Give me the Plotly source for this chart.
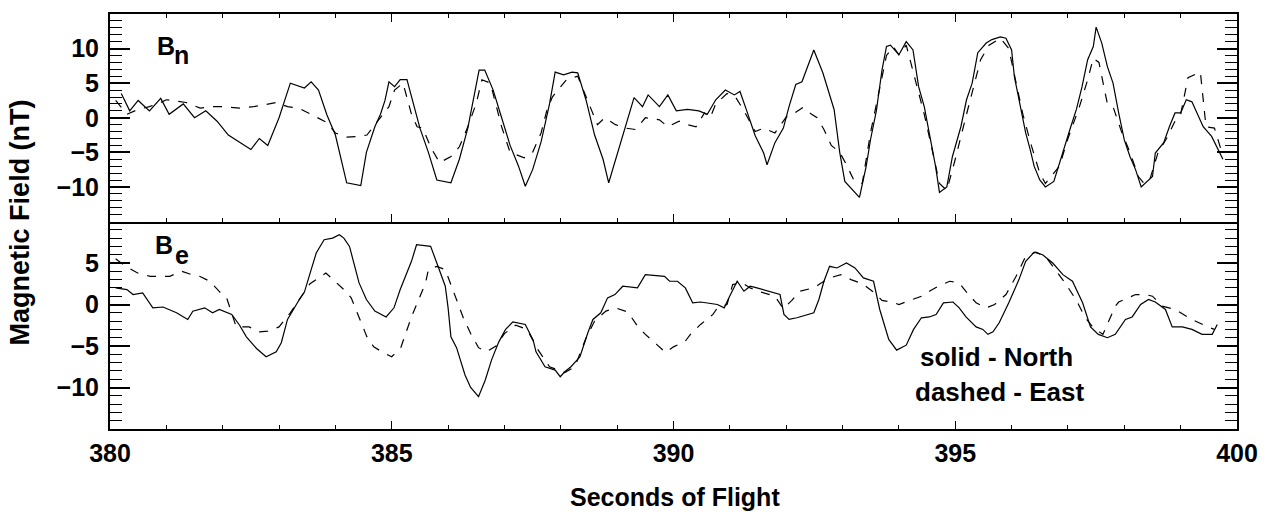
import plotly.graph_objects as go
from plotly.subplots import make_subplots

# ---------------- data ----------------
# Top panel: B_n
t_bn_north = [380.2, 380.35, 380.5, 380.7, 380.9, 381.05, 381.3, 381.5, 381.7, 381.9, 382.1, 382.3, 382.5,
              382.65, 382.8, 383.0, 383.2, 383.45, 383.57, 383.7, 383.85, 384.0, 384.1, 384.2, 384.45, 384.55,
              384.7, 384.8, 384.88, 384.95, 385.05, 385.15, 385.27, 385.4, 385.5, 385.65, 385.8, 386.05, 386.2,
              386.35, 386.45, 386.55, 386.65, 386.8, 386.95, 387.1, 387.25, 387.37, 387.5, 387.65, 387.8, 387.9,
              388.05, 388.2, 388.3, 388.45, 388.6, 388.75, 388.85, 389.0, 389.15, 389.3, 389.45, 389.55, 389.75,
              389.9, 390.05, 390.25, 390.45, 390.6, 390.75, 390.92, 391.08, 391.18, 391.3, 391.45, 391.6, 391.66,
              391.8, 391.95, 392.05, 392.17, 392.28, 392.49, 392.65, 392.75, 392.85, 392.95, 393.04, 393.3, 393.42,
              393.5, 393.6, 393.7, 393.78, 393.85, 394.0, 394.13, 394.25, 394.35, 394.45, 394.55, 394.65, 394.72,
              394.85, 394.95, 395.1, 395.2, 395.3, 395.4, 395.55, 395.65, 395.8, 395.9, 396.0, 396.05, 396.15,
              396.25, 396.33, 396.4, 396.5, 396.6, 396.75, 396.85, 397.05, 397.15, 397.25, 397.35, 397.45, 397.5,
              397.6, 397.7, 397.8, 397.9, 398.0, 398.1, 398.2, 398.3, 398.5, 398.55, 398.7, 398.8, 398.9, 399.0,
              399.1, 399.2, 399.4, 399.55, 399.7, 399.75]
bn_north = [3.5, 1.0, 2.5, 1.0, 2.8, 0.5, 2.0, 0.0, 1.0, -0.5, -2.5, -3.5, -4.6,
            -3.0, -4.0, 0.0, 5.0, 4.3, 5.2, 4.0, 0.4, -2.5, -6.0, -9.4, -9.8, -5.0,
            -1.3, 0.5, 2.5, 5.2, 4.5, 5.5, 5.5, 1.5, -1.5, -5.0, -9.0, -9.4, -6.0,
            -1.5, 2.5, 6.9, 6.9, 4.0, 0.0, -4.0, -7.0, -9.9, -7.5, -3.5, 2.0, 6.6,
            6.2, 6.6, 6.5, 2.5, -2.5, -6.0, -9.4, -5.3, -1.5, 2.9, 1.6, 3.3, 1.6,
            3.3, 1.0, 1.2, 1.0, 0.5, 2.6, 4.0, 3.3, 3.8, 1.0, -2.6, -5.1, -6.8,
            -3.6, -1.5, 1.6, 4.8, 5.2, 9.8, 6.5, 4.0, 1.2, -5.0, -9.2, -11.5, -7.0,
            -3.0, 1.0, 6.9, 10.3, 10.5, 9.1, 11.0, 9.8, 4.5, 1.6, -2.7, -7.0, -10.8,
            -10.0, -5.6, -1.3, 2.6, 5.0, 9.4, 10.8, 11.3, 11.7, 11.5, 9.8, 5.9, 1.6,
            -2.2, -4.6, -7.0, -9.0, -10.0, -9.2, -6.5, -1.3, 1.2, 4.5, 8.4, 10.3, 13.1,
            10.8, 7.4, 5.0, 0.7, -3.2, -5.6, -7.5, -10.0, -8.5, -5.1, -3.6, -1.3, 0.7, 0.7,
            2.6, 2.3, -1.3, -2.7, -5.1, -6.0]

t_bn_east = [380.1, 380.3, 380.5, 380.7, 380.9, 381.0, 381.35, 381.6, 381.8, 382.0, 382.3, 382.55, 382.95,
             383.15, 383.35, 383.6, 383.85, 384.0, 384.2, 384.4, 384.56, 384.75, 384.95, 385.05, 385.2, 385.35,
             385.45, 385.55, 385.7, 385.85, 386.05, 386.2, 386.35, 386.5, 386.6, 386.75, 386.95, 387.1, 387.35,
             387.5, 387.65, 387.75, 387.85, 387.95, 388.1, 388.3, 388.5, 388.65, 388.78, 388.97, 389.15, 389.33,
             389.5, 389.75, 389.9, 390.1, 390.25, 390.4, 390.55, 390.65, 390.75, 390.95, 391.1, 391.25, 391.45,
             391.6, 391.8, 392.0, 392.1, 392.3, 392.45, 392.55, 392.67, 392.8, 392.95, 393.05, 393.2, 393.35,
             393.5, 393.65, 393.78, 393.9, 394.0, 394.13, 394.3, 394.45, 394.6, 394.72, 394.85, 395.0, 395.2,
             395.35, 395.45, 395.6, 395.8, 395.95, 396.1, 396.2, 396.35, 396.5, 396.6, 396.7, 396.85, 397.0,
             397.2, 397.35, 397.45, 397.55, 397.7, 397.8, 397.95, 398.1, 398.25, 398.35, 398.45, 398.6, 398.75,
             398.9, 399.0, 399.13, 399.35, 399.45, 399.6, 399.75]
bn_east = [2.5, 0.5, 1.2, 1.6, 2.2, 2.6, 2.2, 1.4, 1.6, 1.6, 1.4, 1.6, 2.2,
           1.6, 1.4, 0.4, -0.7, -2.2, -2.8, -2.7, -2.5, -0.5, 1.6, 4.0, 5.0, 0.5,
           -1.3, -1.5, -4.4, -6.5, -5.6, -4.2, -1.3, 2.1, 5.5, 5.0, -1.3, -5.0, -5.8,
           -5.0, -2.2, 1.0, 3.0, 4.0, 5.5, 6.0, 2.1, -1.0, 0.0, -1.0, -1.5, -1.7,
           0.0, -0.3, -1.3, -0.5, -1.0, -1.3, 0.7, 0.0, 2.0, 3.5, 3.0, 1.0, -2.0,
           -1.5, -2.2, 0.1, 0.4, 1.5, 0.5, 0.0, -1.7, -4.0, -5.0, -6.5, -9.0, -9.5,
           -2.0, 4.0, 9.0, 10.3, 9.1, 10.5, 5.0, 0.5, -5.0, -9.5, -10.5, -6.0, 0.5,
           5.0, 8.4, 10.5, 11.5, 10.0, 4.0, 0.5, -4.0, -8.0, -9.5, -8.5, -7.0, -3.0,
           1.5, 5.5, 8.6, 8.0, 2.0, 1.6, -2.0, -5.0, -8.5, -9.5, -9.0, -5.0, -3.0,
           -0.5, 0.5, 5.8, 6.6, -1.3, -1.5, -5.5]

# Bottom panel: B_e
t_be_north = [380.1, 380.3, 380.41, 380.58, 380.76, 380.94, 381.18, 381.38, 381.47, 381.68, 381.82, 381.94,
              382.16, 382.3, 382.42, 382.6, 382.77, 382.95, 383.04, 383.15, 383.36, 383.45, 383.57, 383.66,
              383.8, 383.95, 384.07, 384.15, 384.25, 384.33, 384.42, 384.55, 384.7, 384.9, 385.04, 385.15,
              385.26, 385.35, 385.44, 385.69, 385.8, 385.95, 386.0, 386.05, 386.15, 386.23, 386.3, 386.4,
              386.54, 386.66, 386.77, 386.9, 387.02, 387.15, 387.37, 387.51, 387.56, 387.72, 387.9, 387.99,
              388.07, 388.18, 388.34, 388.48, 388.57, 388.71, 388.83, 388.96, 389.1, 389.36, 389.5, 389.84,
              389.93, 390.07, 390.21, 390.34, 390.48, 390.78, 390.9, 390.99, 391.13, 391.25, 391.36, 391.48,
              391.89, 391.96, 392.05, 392.19, 392.49, 392.58, 392.67, 392.77, 392.9, 393.07, 393.22, 393.37,
              393.55, 393.66, 393.82, 393.96, 394.13, 394.26, 394.4, 394.54, 394.66, 394.79, 394.96, 395.07,
              395.19, 395.37, 395.49, 395.58, 395.67, 395.78, 395.95, 396.13, 396.25, 396.4, 396.55, 396.73,
              396.91, 397.08, 397.26, 397.4, 397.54, 397.7, 397.84, 398.02, 398.14, 398.29, 398.43, 398.55,
              398.73, 398.85, 399.03, 399.2, 399.38, 399.56, 399.65]
be_north = [2.0, 1.8, 1.2, 1.4, -0.4, -0.3, -1.0, -1.8, -0.8, -0.4, -1.0, -0.6,
            -1.2, -2.5, -3.9, -5.3, -6.3, -5.7, -4.6, -1.8, 0.6, 1.5, 4.2, 6.2,
            7.8, 8.0, 8.4, 8.0, 7.0, 4.8, 2.6, 0.6, -0.8, -1.5, -0.4, 1.8,
            3.8, 5.2, 7.2, 7.0, 5.0, 2.2, -0.4, -3.9, -5.2, -7.0, -8.5, -10.0,
            -11.1, -9.1, -6.7, -4.5, -3.0, -2.1, -2.4, -4.3, -5.7, -7.5, -7.9, -8.7,
            -8.1, -7.5, -6.3, -3.4, -1.8, -1.0, 0.8, 1.2, 2.2, 2.0, 3.6, 3.4,
            2.8, 2.8, 2.0, 0.2, 0.3, 0.0, -0.4, 0.9, 2.8, 1.6, 2.2, 2.0,
            1.2, -1.2, -1.8, -1.6, -1.0, 0.6, 2.8, 4.6, 4.4, 5.0, 4.4, 3.2,
            2.8, -0.6, -4.2, -5.5, -4.9, -3.0, -1.6, -1.5, -1.2, 0.2, 0.3, -0.4,
            -1.5, -2.7, -3.0, -3.6, -3.3, -2.2, 0.2, 3.0, 5.2, 6.3, 6.0, 5.0,
            3.6, 2.8, 0.2, -2.7, -3.6, -4.0, -3.6, -1.8, -1.5, 0.0, 0.6, 0.3,
            -0.6, -2.7, -2.7, -3.0, -3.6, -3.6, -2.4]

t_be_east = [380.1, 380.3, 380.49, 380.71, 381.06, 381.27, 381.45, 381.59, 381.77, 381.95, 382.07, 382.24,
             382.47, 382.65, 382.8, 383.0, 383.2, 383.35, 383.55, 383.83, 384.0, 384.15, 384.28, 384.45,
             384.56, 384.68, 384.85, 385.0, 385.16, 385.35, 385.42, 385.6, 385.65, 385.8, 385.95, 386.04,
             386.15, 386.27, 386.4, 386.54, 386.68, 386.85, 387.0, 387.2, 387.4, 387.6, 387.8, 388.07,
             388.25, 388.45, 388.6, 388.8, 388.97, 389.19, 389.35, 389.5, 389.7, 389.86, 390.0, 390.2,
             390.3, 390.48, 390.7, 390.78, 390.95, 391.05, 391.22, 391.36, 391.55, 391.8, 391.95, 392.1,
             392.24, 392.49, 392.6, 392.77, 392.97, 393.15, 393.35, 393.55, 393.7, 393.87, 394.0, 394.2,
             394.4, 394.54, 394.7, 394.9, 395.07, 395.2, 395.37, 395.55, 395.7, 395.9, 396.08, 396.25,
             396.43, 396.6, 396.73, 396.95, 397.15, 397.3, 397.45, 397.62, 397.84, 397.9, 398.2, 398.37,
             398.5, 398.67, 398.9, 399.05, 399.2, 399.48, 399.6]
be_east = [5.5, 4.5, 3.8, 3.4, 3.4, 4.0, 3.6, 3.4, 2.8, 1.5, 0.8, -2.7,
           -2.7, -3.3, -3.2, -2.7, -1.0, 0.5, 2.5, 3.8, 2.8, 1.8, 0.8, -2.0,
           -3.9, -5.1, -5.8, -6.3, -5.2, -1.5, -0.4, 2.6, 4.2, 4.6, 4.2, 2.6,
           0.5, -1.6, -3.5, -5.2, -5.7, -5.0, -3.5, -2.5, -3.0, -5.5, -7.5, -8.2,
           -7.5, -4.0, -2.0, -0.8, -0.4, -0.9, -2.5, -3.6, -4.8, -5.8, -5.1, -4.5,
           -3.6, -2.4, -1.2, -0.4, 0.0, 2.4, 2.6, 2.0, 1.5, 1.0, -0.5, 0.5,
           1.6, 2.0, 2.5, 3.2, 3.6, 3.0, 2.5, 1.5, 0.5, 0.3, 0.0, 0.5,
           1.0, 1.6, 2.2, 2.8, 2.6, 1.5, 0.2, -0.4, 0.0, 1.2, 3.4, 5.8,
           6.3, 5.8, 4.6, 2.6, 0.5, -1.5, -2.8, -3.6, -0.2, 0.3, 1.2, 1.2,
           1.0, -0.2, -0.6, -1.2, -1.8, -2.7, -3.0]

x_range = [380, 400]
x_ticks = [380, 385, 390, 395, 400]
bn_range = [-15, 15]
bn_ticks = [-10, -5, 0, 5, 10]
be_range = [-15, 10]
be_ticks = [-10, -5, 0, 5]

FONT = "Liberation Sans, Arial, Helvetica, sans-serif"

fig = make_subplots(rows=2, cols=1, shared_xaxes=True, vertical_spacing=0)

line_kw = dict(color="black", width=1.2)
fig.add_trace(go.Scatter(x=t_bn_north, y=bn_north, mode="lines", line=dict(**line_kw, dash="solid"),
                         name="North", showlegend=False), row=1, col=1)
fig.add_trace(go.Scatter(x=t_bn_east, y=bn_east, mode="lines", line=dict(**line_kw, dash="dash"),
                         name="East", showlegend=False), row=1, col=1)
fig.add_trace(go.Scatter(x=t_be_north, y=be_north, mode="lines", line=dict(**line_kw, dash="solid"),
                         name="North", showlegend=False), row=2, col=1)
fig.add_trace(go.Scatter(x=t_be_east, y=be_east, mode="lines", line=dict(**line_kw, dash="dash"),
                         name="East", showlegend=False), row=2, col=1)

tickfont = dict(family=FONT, size=25, color="black", weight="bold")

common_axis = dict(showline=True, linecolor="black", linewidth=2,
                   ticks="inside", tickcolor="black", showgrid=False, zeroline=False)

fig.update_xaxes(range=x_range, tickvals=x_ticks, ticklen=8, tickwidth=1,
                 minor=dict(dtick=1, ticks="inside", ticklen=4, tickcolor="black"),
                 tickfont=tickfont, ticklabelstandoff=1, **common_axis)
# top panel draws both its top border and the shared middle line; bottom panel only its base line
fig.update_xaxes(mirror="ticks", row=1, col=1)
fig.update_xaxes(mirror=False, row=2, col=1)
fig.update_yaxes(ticklen=20, tickwidth=1.5, mirror="ticks",
                 minor=dict(dtick=1, ticks="inside", ticklen=12, tickcolor="black", tickwidth=1),
                 tickfont=tickfont, ticklabelstandoff=4, **common_axis)
fig.update_yaxes(range=bn_range, tickvals=bn_ticks, row=1, col=1)
fig.update_yaxes(range=be_range, tickvals=be_ticks, row=2, col=1)

fig.update_layout(
    width=1270, height=525,
    margin=dict(l=110, r=28, t=14, b=96),
    paper_bgcolor="white", plot_bgcolor="white",
    showlegend=False,
)

ann_font = dict(family=FONT, color="black", weight="bold")


def label(text, x, y, size, **kw):
    fig.add_annotation(text=text, xref="paper", yref="paper", x=x, y=y, showarrow=False,
                       font=dict(**ann_font, size=size), **kw)


label("Magnetic Field (nT)", -0.0795, 0.4988, 27, textangle=-90, xanchor="center", yanchor="middle")
label("Seconds of Flight", 0.5009, -0.1639, 25, xanchor="center", yanchor="middle")
# panel labels: B with a large, low subscript letter
label("B", 0.0398, 0.962, 25, xanchor="left", yanchor="top")
label("n", 0.0548, 0.9407, 25, xanchor="left", yanchor="top")
label("B", 0.038, 0.483, 25, xanchor="left", yanchor="top")
label("e", 0.0557, 0.4588, 25, xanchor="left", yanchor="top")
label("solid - North", 0.7173, 0.1735, 26, xanchor="left", yanchor="middle")
label("dashed - East", 0.7129, 0.0892, 26, xanchor="left", yanchor="middle")

fig.write_html("out.html")
